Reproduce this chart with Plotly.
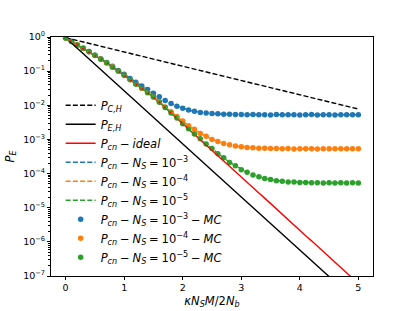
import plotly.graph_objects as go

# ---------------- data ----------------
x_grid = [round(i * 0.1, 1) for i in range(51)]
x_half = [0, 0.5, 1, 1.5, 2, 2.5, 3, 3.5, 4, 4.5, 5]

p_ch = [0.955, 0.590, 0.365, 0.225, 0.139, 0.0861, 0.0532, 0.0329, 0.0203, 0.01256, 0.00776]
p_eh = [0.955, 0.158, 0.0266, 4.47e-3, 7.41e-4, 1.23e-4, 2.07e-5, 3.47e-6, 5.75e-7, 9.55e-8, 1.6e-8]

p_ideal = [0.933, 0.741, 0.589, 0.468, 0.372, 0.288, 0.224, 0.174, 0.132, 0.100,
           0.0759, 0.0562, 0.0417, 0.0316, 0.0234, 0.0174, 0.0123, 0.00851, 0.00589, 0.00417,
           0.00288, 0.00200, 0.00141, 0.000977, 0.000692, 0.000479, 0.000331, 0.000234, 0.000162, 0.000115,
           7.94e-5, 5.50e-5, 3.89e-5, 2.69e-5, 1.91e-5, 1.32e-5, 9.12e-6, 6.46e-6, 4.47e-6, 3.16e-6,
           2.19e-6, 1.51e-6, 1.07e-6, 7.41e-7, 5.25e-7, 3.63e-7, 2.51e-7, 1.78e-7, 1.23e-7, 8.7e-8,
           6.0e-8]

p_ns3 = [0.938, 0.746, 0.594, 0.473, 0.377, 0.293, 0.229, 0.179, 0.137, 0.105,
         0.0811, 0.0615, 0.0469, 0.0369, 0.0287, 0.0226, 0.0176, 0.0138, 0.0111, 0.00942,
         0.00813, 0.00725, 0.00666, 0.00623, 0.00594, 0.00573, 0.00558, 0.00548, 0.00541, 0.00537,
         0.00533, 0.00531, 0.00529, 0.00528, 0.00527, 0.00526, 0.00526, 0.00526, 0.00526, 0.00526,
         0.00526, 0.00526, 0.00526, 0.00526, 0.00526, 0.00526, 0.00526, 0.00526, 0.00526, 0.00526,
         0.00526]
p_ns4 = [0.934, 0.742, 0.590, 0.469, 0.373, 0.289, 0.225, 0.175, 0.133, 0.101,
         0.0764, 0.0567, 0.0422, 0.0321, 0.0239, 0.0179, 0.01283, 0.00904, 0.00642, 0.00470,
         0.00341, 0.00253, 0.00194, 0.00151, 0.00122, 0.00101, 0.00086, 0.000764, 0.000692, 0.000645,
         0.000609, 0.000585, 0.000568, 0.000557, 0.000549, 0.000543, 0.000539, 0.000536, 0.000534, 0.000533,
         0.000532, 0.000532, 0.000532, 0.000532, 0.000532, 0.000532, 0.000532, 0.000532, 0.000532, 0.000532,
         0.000532]
p_ns5 = [0.933, 0.741, 0.589, 0.468, 0.372, 0.288, 0.224, 0.174, 0.132, 0.100,
         0.0760, 0.0563, 0.0418, 0.0317, 0.0235, 0.0175, 0.0124, 0.00856, 0.00594, 0.00422,
         0.00293, 0.00205, 0.00146, 0.00103, 0.000745, 0.000533, 0.000384, 0.000287, 0.000215, 0.000168,
         0.000132, 0.000108, 9.19e-5, 7.99e-5, 7.21e-5, 6.62e-5, 6.21e-5, 5.95e-5, 5.75e-5, 5.62e-5,
         5.52e-5, 5.45e-5, 5.40e-5, 5.37e-5, 5.35e-5, 5.34e-5, 5.33e-5, 5.33e-5, 5.33e-5, 5.33e-5,
         5.33e-5]

mc_ns3 = [0.940, 0.745, 0.596, 0.471, 0.378, 0.292, 0.230, 0.178, 0.138, 0.104,
          0.0815, 0.0612, 0.0472, 0.0366, 0.0290, 0.0224, 0.0178, 0.0137, 0.0112, 0.00938,
          0.00818, 0.00722, 0.00670, 0.00619, 0.00597, 0.00570, 0.00561, 0.00545, 0.00544, 0.00534,
          0.00536, 0.00528, 0.00533, 0.00524, 0.00530, 0.00522, 0.00540, 0.00528, 0.00524, 0.00531,
          0.00520, 0.00529, 0.00533, 0.00522, 0.00527, 0.00530, 0.00523, 0.00531, 0.00525, 0.00528,
          0.00530]
mc_ns4 = [0.936, 0.740, 0.592, 0.467, 0.375, 0.287, 0.227, 0.174, 0.134, 0.100,
          0.0768, 0.0564, 0.0425, 0.0318, 0.0241, 0.0177, 0.01290, 0.00898, 0.00648, 0.00466,
          0.00344, 0.00250, 0.00197, 0.00149, 0.00124, 0.00100, 0.00087, 0.000755, 0.000698, 0.000640,
          0.000612, 0.000580, 0.000572, 0.000552, 0.000553, 0.000540, 0.000542, 0.000533, 0.000538, 0.000528,
          0.000535, 0.000530, 0.000536, 0.000527, 0.000534, 0.000531, 0.000529, 0.000535, 0.000530, 0.000533,
          0.000537]
mc_ns5 = [0.932, 0.743, 0.587, 0.470, 0.370, 0.290, 0.222, 0.175, 0.131, 0.101,
          0.0757, 0.0566, 0.0415, 0.0319, 0.0233, 0.0176, 0.0122, 0.00860, 0.00590, 0.00425,
          0.00290, 0.00207, 0.00144, 0.00104, 0.000738, 0.000538, 0.000380, 0.000290, 0.000212, 0.000170,
          0.000130, 0.000110, 9.05e-5, 8.10e-5, 7.12e-5, 6.70e-5, 6.15e-5, 6.00e-5, 5.68e-5, 5.65e-5,
          5.48e-5, 5.50e-5, 5.36e-5, 5.40e-5, 5.31e-5, 5.37e-5, 5.30e-5, 5.35e-5, 5.29e-5, 5.36e-5,
          5.32e-5]

y_ticks = [1, 1e-1, 1e-2, 1e-3, 1e-4, 1e-5, 1e-6, 1e-7]
y_tick_text = ["10<sup>0</sup>", "10<sup>−1</sup>", "10<sup>−2</sup>", "10<sup>−3</sup>",
               "10<sup>−4</sup>", "10<sup>−5</sup>", "10<sup>−6</sup>", "10<sup>−7</sup>"]
x_ticks = [0, 1, 2, 3, 4, 5]

BLUE, ORANGE, GREEN = "#1f77b4", "#ff7f0e", "#2ca02c"
S = "\u2005"  # narrower space, like mathtext operator spacing
PCN = "<i>P</i><sub><i>cn</i></sub>"
NS = "<i>N</i><sub><i>S</i></sub>"
MINUS = f"{S}−{S}"
EQ = f"{S}={S}"

fig = go.Figure()
LW = 1.4
DASH = "5px,2.2px"

# markers first (drawn below the lines, like matplotlib)
for name, ys, col, rank in [
    (f"{PCN}{MINUS}{NS}{EQ}10<sup>−3</sup>{MINUS}<i>MC</i>", mc_ns3, BLUE, 7),
    (f"{PCN}{MINUS}{NS}{EQ}10<sup>−4</sup>{MINUS}<i>MC</i>", mc_ns4, ORANGE, 8),
    (f"{PCN}{MINUS}{NS}{EQ}10<sup>−5</sup>{MINUS}<i>MC</i>", mc_ns5, GREEN, 9),
]:
    fig.add_trace(go.Scatter(x=x_grid, y=ys, mode="markers", name=name, legendrank=rank,
                             marker=dict(color=col, size=5.5, line=dict(width=0))))

fig.add_trace(go.Scatter(x=x_half, y=p_ch, mode="lines", name="<i>P</i><sub><i>C,H</i></sub>",
                         legendrank=1, line=dict(color="black", width=LW, dash=DASH)))
fig.add_trace(go.Scatter(x=x_half, y=p_eh, mode="lines", name="<i>P</i><sub><i>E,H</i></sub>",
                         legendrank=2, line=dict(color="black", width=LW)))
fig.add_trace(go.Scatter(x=x_grid, y=p_ideal, mode="lines", name=f"{PCN}{MINUS}<i>ideal</i>",
                         legendrank=3, line=dict(color="#ff0000", width=LW)))
for name, ys, col, rank in [
    (f"{PCN}{MINUS}{NS}{EQ}10<sup>−3</sup>", p_ns3, BLUE, 4),
    (f"{PCN}{MINUS}{NS}{EQ}10<sup>−4</sup>", p_ns4, ORANGE, 5),
    (f"{PCN}{MINUS}{NS}{EQ}10<sup>−5</sup>", p_ns5, GREEN, 6),
]:
    fig.add_trace(go.Scatter(x=x_grid, y=ys, mode="lines", name=name, legendrank=rank,
                             line=dict(color=col, width=LW, dash=DASH)))

axis_common = dict(showline=True, linecolor="black", linewidth=1, mirror=True,
                   ticks="outside", ticklen=3, tickwidth=1, tickcolor="black", automargin=False,
                   showgrid=False, zeroline=False, tickfont=dict(size=9.5, color="black"))

fig.update_xaxes(range=[-0.25, 5.25], tickvals=x_ticks,
                 title=dict(text="<i>κN</i><sub><i>S</i></sub><i>M</i>/2<i>N</i><sub><i>b</i></sub>",
                            font=dict(size=11.5, color="black"), standoff=4),
                 **axis_common)
fig.update_yaxes(type="log", range=[-7, 0], tickvals=y_ticks, ticktext=y_tick_text,
                 minor=dict(ticks="outside", ticklen=1.8, tickcolor="black", dtick="D1", showgrid=False),
                 title=dict(text="<i>P</i><sub><i>E</i></sub>", font=dict(size=11.5, color="black"), standoff=6),
                 **axis_common)

fig.update_layout(
    width=415, height=311,
    margin=dict(l=51, r=42, t=37, b=35),
    paper_bgcolor="white", plot_bgcolor="white",
    font=dict(family="DejaVu Sans", color="black"),
    legend=dict(x=0.03, y=0.775, xanchor="left", yanchor="top", bgcolor="rgba(0,0,0,0)",
                font=dict(size=11.5, color="black"), itemwidth=30),
    showlegend=True,
)

fig.write_html("out.html", config={"displayModeBar": False},
               post_script="document.body.style.margin='0';document.body.style.overflow='hidden';")
